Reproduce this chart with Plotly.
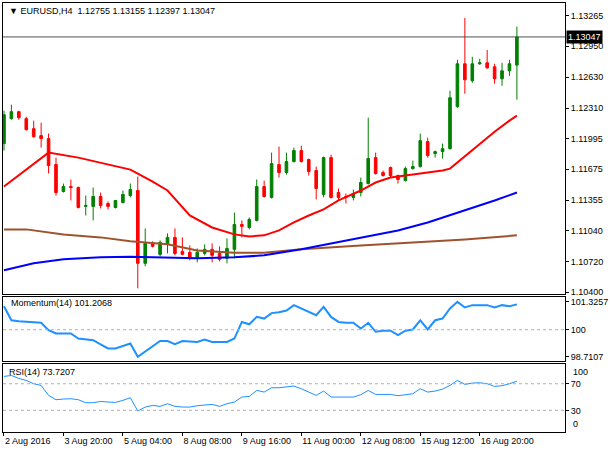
import plotly.graph_objects as go
from plotly.subplots import make_subplots

# EURUSD H4 candles, bar index 0..69
bars = list(range(70))
opens = [1.11941, 1.12200, 1.12272, 1.12200, 1.12096, 1.12024, 1.11993, 1.11724, 1.11445, 1.11496,
         1.11486, 1.11290, 1.11290, 1.11393, 1.11320, 1.11279, 1.11331, 1.11403, 1.11455, 1.10700,
         1.10907, 1.10793, 1.10897, 1.10969, 1.10824, 1.10814, 1.10762, 1.10803, 1.10845, 1.10803,
         1.10752, 1.10845, 1.11103, 1.11072, 1.11145, 1.11496, 1.11383, 1.11724, 1.11641, 1.11755,
         1.11869, 1.11776, 1.11662, 1.11414, 1.11796, 1.11434, 1.11393, 1.11383, 1.11434, 1.11527,
         1.11796, 1.11641, 1.11693, 1.11610, 1.11558, 1.11682, 1.11703, 1.11962, 1.11838, 1.11858,
         1.11889, 1.12324, 1.12769, 1.12593, 1.12769, 1.12779, 1.12738, 1.12613, 1.12696, 1.12755]
highs = [1.12282, 1.12345, 1.12282, 1.12220, 1.12179, 1.12158, 1.12045, 1.11796, 1.11527, 1.11569,
         1.11496, 1.11403, 1.11486, 1.11434, 1.11341, 1.11290, 1.11455, 1.11527, 1.11600, 1.11062,
         1.10928, 1.10938, 1.11010, 1.11062, 1.10969, 1.10886, 1.10855, 1.10897, 1.10907, 1.10876,
         1.10959, 1.11227, 1.11145, 1.11176, 1.11569, 1.11558, 1.11848, 1.11910, 1.11848, 1.11900,
         1.11920, 1.11786, 1.11703, 1.11807, 1.11827, 1.11476, 1.11424, 1.11465, 1.11589, 1.12210,
         1.11848, 1.11662, 1.11703, 1.11620, 1.11703, 1.11765, 1.12045, 1.12003, 1.11869, 1.11941,
         1.12489, 1.12810, 1.13244, 1.12841, 1.12820, 1.12913, 1.12769, 1.12779, 1.12810, 1.13155]
lows = [1.11869, 1.12189, 1.12189, 1.12076, 1.12003, 1.11900, 1.11631, 1.11403, 1.11434, 1.11352,
        1.11269, 1.11196, 1.11145, 1.11269, 1.11259, 1.11269, 1.11320, 1.11383, 1.10441, 1.10669,
        1.10865, 1.10772, 1.10803, 1.10783, 1.10783, 1.10731, 1.10710, 1.10783, 1.10710, 1.10721,
        1.10700, 1.10752, 1.10969, 1.11052, 1.11134, 1.11383, 1.11372, 1.11589, 1.11620, 1.11745,
        1.11745, 1.11610, 1.11362, 1.11383, 1.11372, 1.11352, 1.11320, 1.11352, 1.11393, 1.11517,
        1.11620, 1.11600, 1.11589, 1.11527, 1.11548, 1.11672, 1.11693, 1.11796, 1.11796, 1.11786,
        1.11879, 1.12313, 1.12458, 1.12572, 1.12758, 1.12717, 1.12562, 1.12541, 1.12644, 1.12397]
closes = [1.12241, 1.12272, 1.12210, 1.12086, 1.12013, 1.11993, 1.11714, 1.11434, 1.11496, 1.11486,
          1.11279, 1.11300, 1.11393, 1.11300, 1.11290, 1.11352, 1.11414, 1.11465, 1.10700, 1.10907,
          1.10876, 1.10917, 1.10969, 1.10803, 1.10793, 1.10752, 1.10814, 1.10845, 1.10783, 1.10741,
          1.10855, 1.11103, 1.11083, 1.11155, 1.11496, 1.11393, 1.11734, 1.11641, 1.11755, 1.11869,
          1.11755, 1.11651, 1.11476, 1.11796, 1.11383, 1.11383, 1.11383, 1.11424, 1.11538, 1.11786,
          1.11631, 1.11610, 1.11610, 1.11569, 1.11682, 1.11703, 1.11972, 1.11817, 1.11858, 1.11889,
          1.12417, 1.12769, 1.12603, 1.12769, 1.12779, 1.12727, 1.12613, 1.12696, 1.12769, 1.13047]

# moving averages, read at selected bars
ma_red_bars = [0, 3, 6, 10, 13, 17, 18, 20, 22, 25, 28, 31, 33, 35, 37, 39, 41, 43, 45, 48,
               50, 52, 54, 56, 59, 60, 62, 64, 66, 68, 69]
ma_red = [1.11496, 1.11672, 1.11848, 1.11796, 1.11745, 1.11672, 1.11631, 1.11548, 1.11455, 1.11196,
          1.11072, 1.11000, 1.10979, 1.10990, 1.11041, 1.11124, 1.11196, 1.11259, 1.11352, 1.11455,
          1.11538, 1.11589, 1.11610, 1.11631, 1.11662, 1.11682, 1.11807, 1.11941, 1.12065, 1.12179,
          1.12231]
ma_blue_bars = [0, 4, 8, 13, 17, 22, 26, 31, 35, 40, 44, 48, 53, 57, 62, 66, 69]
ma_blue = [1.10628, 1.10700, 1.10741, 1.10762, 1.10767, 1.10762, 1.10752, 1.10762, 1.10783, 1.10845,
           1.10907, 1.10969, 1.11041, 1.11124, 1.11248, 1.11352, 1.11434]
ma_brown_bars = [0, 3, 8, 13, 17, 22, 26, 31, 35, 40, 48, 57, 62, 69]
ma_brown = [1.11052, 1.11052, 1.11000, 1.10969, 1.10928, 1.10897, 1.10834, 1.10809, 1.10809, 1.10845,
            1.10886, 1.10928, 1.10948, 1.10990]

momentum = [101.12, 100.45, 100.40, 100.37, 100.35, 100.33, 99.98, 99.82, 99.82, 99.82,
            99.58, 99.53, 99.50, 99.30, 99.11, 99.11, 99.22, 99.34, 98.7107, 98.95,
            99.22, 99.46, 99.46, 99.31, 99.46, 99.44, 99.42, 99.53, 99.42, 99.42,
            99.42, 99.58, 100.37, 100.26, 100.61, 100.53, 100.79, 100.83, 100.91, 101.17,
            101.01, 100.85, 100.69, 101.09, 100.61, 100.37, 100.33, 100.33, 100.06, 100.33,
            99.90, 99.95, 99.95, 99.74, 99.95, 100.01, 100.45, 100.01, 100.45, 100.53,
            101.01, 101.3257, 101.06, 101.17, 101.17, 101.17, 101.06, 101.17, 101.12, 101.2068]
rsi = [81, 82.5, 78, 75, 70, 67.5, 52.5, 46, 47, 47.5,
       46, 41.5, 41.5, 43.5, 42.5, 42, 45, 49, 29, 35,
       37.5, 36, 40, 36, 35, 35, 37, 37.5, 39, 36,
       40, 42.5, 50, 51, 60, 57.5, 64, 64, 65.5, 66.5,
       62.5, 57, 52.5, 59, 50, 50, 50, 50, 53.5, 60,
       54, 54, 54, 52, 54, 55, 62.5, 57.5, 59, 62,
       67.5, 75, 69, 71, 71.5, 70, 66, 67, 70, 73.7207]

tick_bars = [0, 8, 16, 24, 32, 40, 48, 56, 64]
tick_labels = ["2 Aug 2016", "3 Aug 20:00", "5 Aug 04:00", "8 Aug 08:00", "9 Aug 16:00",
               "11 Aug 00:00", "12 Aug 08:00", "15 Aug 12:00", "16 Aug 20:00"]
price_ticks = [1.13265, 1.12950, 1.12630, 1.12310, 1.11995, 1.11675, 1.11355, 1.11040, 1.10720, 1.10400]
mom_ticks = [101.3257, 100, 98.7107]
rsi_ticks = [70, 30]

font = "Liberation Sans"

fig = make_subplots(rows=3, cols=1, shared_xaxes=True)

fig.add_trace(go.Candlestick(x=bars, open=opens, high=highs, low=lows, close=closes,
                             increasing=dict(line=dict(color="#008000", width=1), fillcolor="#008000"),
                             decreasing=dict(line=dict(color="#ff0000", width=1), fillcolor="#ff0000"),
                             whiskerwidth=0, hoverinfo="skip"), row=1, col=1)
fig.add_trace(go.Scatter(x=ma_brown_bars, y=ma_brown, mode="lines",
                         line=dict(color="#a0522d", width=2)), row=1, col=1)
fig.add_trace(go.Scatter(x=ma_blue_bars, y=ma_blue, mode="lines",
                         line=dict(color="#0000ff", width=2)), row=1, col=1)
fig.add_trace(go.Scatter(x=ma_red_bars, y=ma_red, mode="lines",
                         line=dict(color="#ff0000", width=2)), row=1, col=1)

fig.add_trace(go.Scatter(x=bars, y=momentum, mode="lines",
                         line=dict(color="#1e90ff", width=2)), row=2, col=1)
fig.add_trace(go.Scatter(x=bars, y=rsi, mode="lines",
                         line=dict(color="#1e90ff", width=1)), row=3, col=1)

# level lines
fig.add_hline(y=closes[-1], line=dict(color="#505050", width=1), row=1, col=1)
fig.add_hline(y=100, line=dict(color="#b0b0b0", width=1, dash="dot"), row=2, col=1)
for lvl in rsi_ticks:
    fig.add_hline(y=lvl, line=dict(color="#b0b0b0", width=1, dash="dot"), row=3, col=1)

fig.update_xaxes(range=[-0.13, 75.47], showgrid=False, zeroline=False, showline=True,
                 linecolor="black", linewidth=1, mirror=True, showticklabels=False,
                 rangeslider_visible=False)
fig.update_xaxes(row=3, col=1, showticklabels=True, tickvals=tick_bars, ticktext=tick_labels,
                 ticks="outside", ticklen=3, tickcolor="black", ticklabelposition="outside right",
                 tickangle=0, tickfont=dict(family=font, size=9, color="black"))

common_y = dict(side="right", showgrid=False, zeroline=False, showline=True, linecolor="black",
                linewidth=1, mirror=True, ticks="outside", ticklen=3, tickcolor="black",
                tickfont=dict(family=font, size=9, color="black"))
fig.update_layout(
    yaxis=dict(domain=[0.321, 1], range=[1.10379, 1.13399], tickvals=price_ticks,
               ticktext=["%.5f" % v for v in price_ticks], **common_y),
    yaxis2=dict(domain=[0.166, 0.315], range=[98.5205, 101.5635], tickvals=mom_ticks,
                ticktext=["101.3257", "100", "98.7107"], **common_y),
    yaxis3=dict(domain=[0.0, 0.159], range=[-2.5, 100], tickvals=rsi_ticks,
                ticktext=[str(v) for v in rsi_ticks], **common_y),
)

header = "▼ EURUSD,H4  %.5f %.5f %.5f %.5f" % (opens[-1], highs[-1], lows[-1], closes[-1])
annots = [
    dict(text=header, x=0.007, y=0.981, xref="paper", yref="paper", xanchor="left", yanchor="middle"),
    dict(text="Momentum(14) %.4f" % momentum[-1], x=0.01, y=0.3, xref="paper", yref="paper",
         xanchor="left", yanchor="middle"),
    dict(text="RSI(14) %.4f" % rsi[-1], x=0.007, y=0.1395, xref="paper", yref="paper",
         xanchor="left", yanchor="middle"),
    dict(text="100", x=1.0106, y=0.1395, xref="paper", yref="paper", xanchor="left", yanchor="middle"),
    dict(text="0", x=1.0106, y=0.0186, xref="paper", yref="paper", xanchor="left", yanchor="middle"),
]
for a in annots:
    fig.add_annotation(showarrow=False, font=dict(family=font, size=9, color="black"), **a)
fig.add_annotation(text="%.5f" % closes[-1], x=1, y=closes[-1], xref="paper", yref="y",
                   xanchor="left", yanchor="middle", xshift=1, showarrow=False, bgcolor="black",
                   borderpad=1, font=dict(family=font, size=9, color="white"))

# boxgap narrows the candle bodies
fig.update_layout(width=610, height=450, margin=dict(l=2, r=41, t=2, b=18), boxgap=0.5,
                  paper_bgcolor="white", plot_bgcolor="white", showlegend=False)

# page body has a default 8px margin, drop it so the figure sits at 0,0
fig.write_html("out.html", config={"displayModeBar": False},
               post_script="document.body.style.margin='0';")
